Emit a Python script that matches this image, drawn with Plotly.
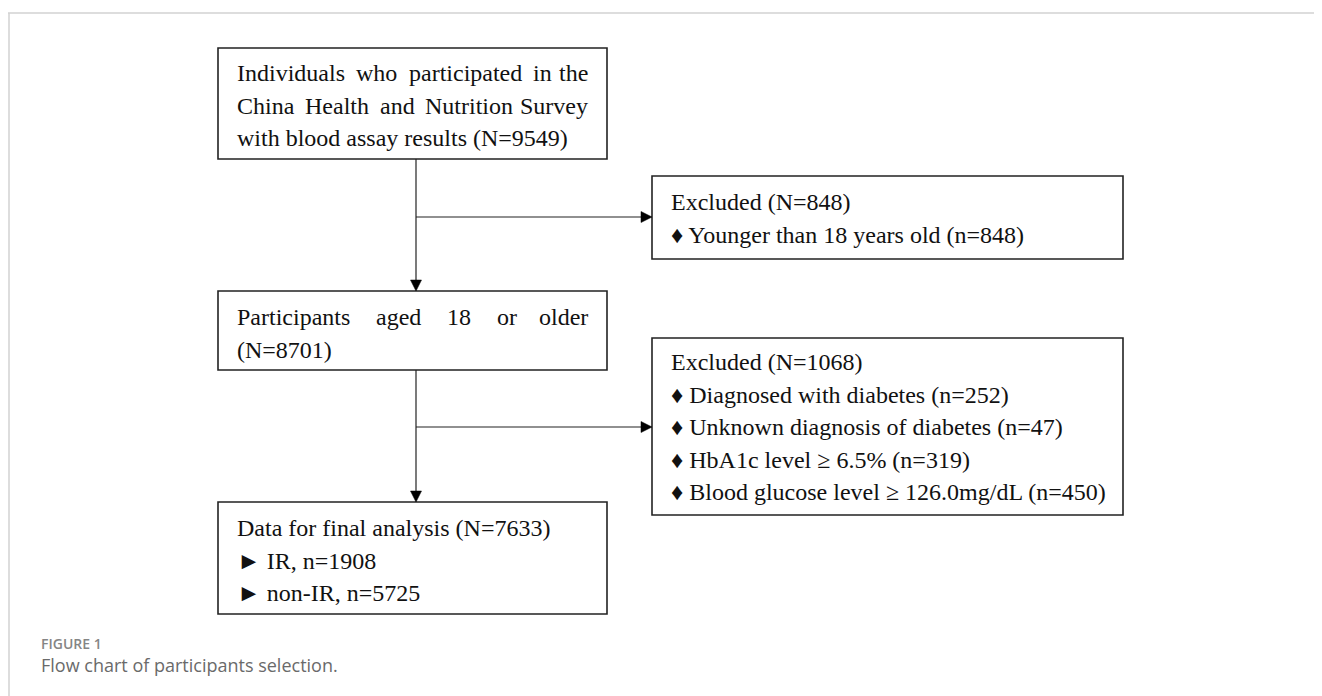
import plotly.graph_objects as go

# ---------------- content ----------------
box1_lines = ["Individuals who participated in the",
              "China Health and Nutrition Survey",
              "with blood assay results (N=9549)"]
box1_justify = [True, True, False]

box2_lines = ["Excluded (N=848)",
              "\u2666 Younger than 18 years old (n=848)"]

box3_lines = ["Participants aged 18 or older", "(N=8701)"]
box3_justify = [True, False]

box4_lines = ["Excluded (N=1068)",
              "\u2666 Diagnosed with diabetes (n=252)",
              "\u2666 Unknown diagnosis of diabetes (n=47)",
              "\u2666 HbA1c level \u2265 6.5% (n=319)",
              "\u2666 Blood glucose level \u2265 126.0mg/dL (n=450)"]

box5_lines = ["Data for final analysis (N=7633)",
              "\u25ba IR, n=1908",
              "\u25ba non-IR, n=5725"]

caption_label = "FIGURE 1"
caption_text = "Flow chart of participants selection."

# ---------------- layout / style ----------------
W, H = 1322, 696
BODY = 8  # default page margin of the html body
SERIF = "Liberation Serif, Times New Roman, serif"
FS = 24
LINE_H = 32.5
PAD_X = 17
BORDER = "#222222"

# box geometry (x0, x1, y_top, y_bottom) in page pixels
B1 = dict(x0=218, x1=607, y0=48, y1=159)
B2 = dict(x0=652, x1=1123, y0=176, y1=259)
B3 = dict(x0=218, x1=607, y0=291, y1=370)
B4 = dict(x0=652, x1=1123, y0=338, y1=515)
B5 = dict(x0=218, x1=607, y0=502, y1=614)
STEM_X = 416
BRANCH1_Y = 217
BRANCH2_Y = 427
AH_L, AH_W = 11, 5.5

# Times-Roman advance widths (1/1000 em) for justification
TW = {' ': 250, '(': 333, ')': 333, '=': 564, ',': 250, '.': 250, '-': 333, '%': 833, '/': 278}
for d in "0123456789":
    TW[d] = 500
TW.update(dict(A=722, B=667, C=667, D=722, E=611, F=556, G=722, H=722, I=333, J=389, K=722, L=611,
               M=889, N=722, O=722, P=556, Q=722, R=667, S=556, T=611, U=722, V=722, W=944, X=722,
               Y=722, Z=611, a=444, b=500, c=444, d=500, e=444, f=333, g=500, h=500, i=278, j=278,
               k=500, l=278, m=778, n=500, o=500, p=500, q=500, r=333, s=389, t=278, u=500, v=500,
               w=722, x=500, y=500, z=444))


def tw(s):
    return sum(TW.get(c, 500) for c in s) / 1000.0 * FS


fig = go.Figure()
fig.add_trace(go.Scatter(x=[BODY, W], y=[BODY, H], mode="markers", marker=dict(opacity=0),
                         hoverinfo="skip", showlegend=False))

shapes = []
annotations = []


def add_box(b):
    shapes.append(dict(type="rect", xref="x", yref="y", x0=b["x0"], x1=b["x1"], y0=b["y0"], y1=b["y1"],
                       line=dict(color=BORDER, width=1.6), fillcolor="rgba(0,0,0,0)"))


def add_word(txt, x, y, anchor="left"):
    annotations.append(dict(x=x, y=y, xref="x", yref="y", text=txt, showarrow=False,
                            xanchor=anchor, yanchor="middle",
                            font=dict(family=SERIF, size=FS, color="#111111")))


def add_lines(b, lines, first_y, justify=None):
    left = b["x0"] + PAD_X
    right = b["x1"] - PAD_X
    for i, line in enumerate(lines):
        y = first_y + i * LINE_H
        if justify and justify[i]:
            words = line.split(" ")
            ws = [tw(w) for w in words]
            gap = (right - left - sum(ws)) / (len(words) - 1)
            x = left
            for j, w in enumerate(words):
                if j == len(words) - 1:
                    add_word(w, right, y, "right")
                else:
                    add_word(w, x, y, "left")
                x += ws[j] + gap
        else:
            add_word(line, left, y)


def vline_arrow(x, ya, yb):
    shapes.append(dict(type="line", xref="x", yref="y", x0=x, x1=x, y0=ya, y1=yb - AH_L,
                       line=dict(color=BORDER, width=1.2)))
    shapes.append(dict(type="path", xref="x", yref="y",
                       path=f"M {x - AH_W},{yb - AH_L} L {x + AH_W},{yb - AH_L} L {x},{yb} Z",
                       fillcolor="#000000", line=dict(color="#000000", width=0.5)))


def hline_arrow(y, xa, xb):
    shapes.append(dict(type="line", xref="x", yref="y", x0=xa, x1=xb - AH_L, y0=y, y1=y,
                       line=dict(color=BORDER, width=1.2)))
    shapes.append(dict(type="path", xref="x", yref="y",
                       path=f"M {xb - AH_L},{y - AH_W} L {xb - AH_L},{y + AH_W} L {xb},{y} Z",
                       fillcolor="#000000", line=dict(color="#000000", width=0.5)))


for b in (B1, B2, B3, B4, B5):
    add_box(b)

add_lines(B1, box1_lines, B1["y0"] + 25, box1_justify)
add_lines(B2, box2_lines, B2["y0"] + 26)
add_lines(B3, box3_lines, B3["y0"] + 26, box3_justify)
add_lines(B4, box4_lines, B4["y0"] + 24)
add_lines(B5, box5_lines, B5["y0"] + 26)

vline_arrow(STEM_X, B1["y1"], B3["y0"])
hline_arrow(BRANCH1_Y, STEM_X, B2["x0"])
vline_arrow(STEM_X, B3["y1"], B5["y0"])
hline_arrow(BRANCH2_Y, STEM_X, B4["x0"])

# page frame lines
shapes.append(dict(type="line", xref="x", yref="y", x0=8, x1=W, y0=13, y1=13,
                   line=dict(color="#d2d2d2", width=1.5)))
shapes.append(dict(type="line", xref="x", yref="y", x0=9, x1=9, y0=13, y1=H,
                   line=dict(color="#d2d2d2", width=1.5)))

annotations.append(dict(x=39, y=643, xref="x", yref="y", text=caption_label, showarrow=False,
                        xanchor="left", yanchor="middle",
                        font=dict(family="Open Sans, sans-serif", size=14, color="#858585",
                                  weight=600)))
annotations.append(dict(x=39, y=665, xref="x", yref="y", text=caption_text, showarrow=False,
                        xanchor="left", yanchor="middle",
                        font=dict(family="Open Sans, sans-serif", size=18, color="#6a6a6a")))

fig.update_layout(width=W - BODY, height=H - BODY, margin=dict(l=0, r=0, t=0, b=0),
                  paper_bgcolor="white", plot_bgcolor="white",
                  xaxis=dict(range=[BODY, W], visible=False, fixedrange=True),
                  yaxis=dict(range=[H, BODY], visible=False, fixedrange=True),
                  shapes=shapes, annotations=annotations, showlegend=False)

fig.write_html("out.html")
